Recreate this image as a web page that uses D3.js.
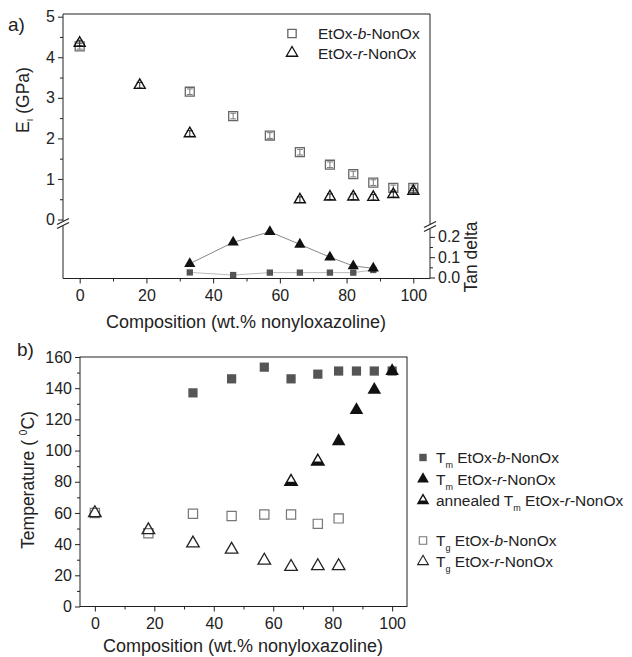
<!DOCTYPE html>
<html>
<head>
<meta charset="utf-8">
<script src="https://cdn.jsdelivr.net/npm/d3@7"></script>
<style>
  body { margin: 0; background: #fff; }
  svg { font-family: "Liberation Sans", Arial, sans-serif; }
  .axis path, .axis line { stroke: #222; }
  .axis text { font-size: 16px; fill: #222; }
</style>
</head>
<body>
<div id="chart"></div>
<script>
// ---- panel a data ----
const compB = [0, 33, 46, 57, 66, 75, 82, 88, 94, 100];
const modB = [4.27, 3.15, 2.55, 2.07, 1.66, 1.35, 1.12, 0.91, 0.78, 0.78];
const compR = [0, 18, 33, 66, 75, 82, 88, 94, 100];
const modR = [4.35, 3.31, 2.12, 0.49, 0.56, 0.56, 0.55, 0.62, 0.70];
const modErr = 0.07;

const tanComp = [33, 46, 57, 66, 75, 82, 88];
const tanR = [0.068, 0.173, 0.225, 0.163, 0.10, 0.057, 0.045];
const tanB = [0.025, 0.012, 0.024, 0.024, 0.024, 0.024, 0.037];

// ---- panel b data ----
const tmBComp = [33, 46, 57, 66, 75, 82, 88, 94, 100];
const tmB = [137, 146, 153.5, 146, 149, 151, 151, 151, 151];
const tmRComp = [82, 88, 94, 100];
const tmR = [106, 126, 139, 151];
const annComp = [66, 75];
const annR = [80, 93];
const tgBComp = [0, 18, 33, 46, 57, 66, 75, 82];
const tgB = [60, 47, 59.5, 58, 59, 59, 53, 56.5];
const tgRComp = [0, 18, 33, 46, 57, 66, 75, 82];
const tgR = [60, 49, 40.5, 36.5, 29.5, 25.5, 26, 26];

const xTicks = [0, 20, 40, 60, 80, 100];
const xMinor = [10, 30, 50, 70, 90];

const svg = d3.select("#chart").append("svg").attr("width", 632).attr("height", 657);

const tri = d3.symbol().type(d3.symbolTriangle);
const sq = d3.symbol().type(d3.symbolSquare);

function zip(a, b) { return a.map((v, i) => [v, b[i]]); }

function breakMark(g, x, y) {
  g.append("rect").attr("x", x - 6).attr("y", y - 2).attr("width", 12).attr("height", 5).attr("fill", "#fff");
  [-1.5, 2.5].forEach(o => {
    g.append("line").attr("x1", x - 6).attr("x2", x + 6).attr("y1", y + o + 3).attr("y2", y + o - 3)
      .attr("stroke", "#222").attr("stroke-width", 1.1);
  });
}

// ================= panel a =================
const ax = { l: 63, r: 430, t: 14, b: 278.5, brk: 223 };
const xa = d3.scaleLinear().domain([-5, 105]).range([ax.l, ax.r]);
const yaU = d3.scaleLinear().domain([0, 5]).range([219.5, 16.7]);
const yaL = d3.scaleLinear().domain([0, 0.25]).range([277.5, 226.7]);

const ga = svg.append("g");

// frame lines
ga.append("line").attr("x1", ax.l).attr("x2", ax.r).attr("y1", ax.t).attr("y2", ax.t).attr("stroke", "#222");
ga.append("line").attr("x1", ax.l).attr("x2", ax.l).attr("y1", ax.t).attr("y2", ax.b).attr("stroke", "#222");
ga.append("line").attr("x1", ax.r).attr("x2", ax.r).attr("y1", ax.t).attr("y2", ax.b).attr("stroke", "#222");

// bottom axis
ga.append("g").attr("class", "axis").attr("transform", `translate(0,${ax.b})`)
  .call(d3.axisBottom(xa).tickValues(xTicks).tickSize(5).tickSizeOuter(0).tickPadding(6))
  .call(g => g.select(".domain").attr("d", `M${ax.l},0H${ax.r}`));
ga.append("g").attr("class", "axis").attr("transform", `translate(0,${ax.b})`)
  .call(d3.axisBottom(xa).tickValues(xMinor).tickSize(3).tickFormat(""))
  .call(g => g.select(".domain").remove());

// left axis (upper part)
ga.append("g").attr("class", "axis").attr("transform", `translate(${ax.l},0)`)
  .call(d3.axisLeft(yaU).tickValues([0, 1, 2, 3, 4, 5]).tickSize(5).tickPadding(3).tickFormat(d3.format("d")))
  .call(g => g.select(".domain").remove());
ga.append("g").attr("class", "axis").attr("transform", `translate(${ax.l},0)`)
  .call(d3.axisLeft(yaU).tickValues([0.5, 1.5, 2.5, 3.5, 4.5]).tickSize(3).tickFormat(""))
  .call(g => g.select(".domain").remove());

// right axis (lower part, tan delta)
ga.append("g").attr("class", "axis").attr("transform", `translate(${ax.r},0)`)
  .call(d3.axisRight(yaL).tickValues([0, 0.1, 0.2]).tickSize(5).tickPadding(3).tickFormat(d3.format(".1f")))
  .call(g => g.select(".domain").remove());
ga.append("g").attr("class", "axis").attr("transform", `translate(${ax.r},0)`)
  .call(d3.axisRight(yaL).tickValues([0.05, 0.15]).tickSize(3).tickFormat(""))
  .call(g => g.select(".domain").remove());

breakMark(ga, ax.l, ax.brk);
breakMark(ga, ax.r, ax.brk + 3);

// error bars + markers, upper part
function errBars(g, data, color) {
  g.selectAll(null).data(data).join("g").each(function (d) {
    const s = d3.select(this);
    const x = xa(d[0]);
    s.append("line").attr("x1", x).attr("x2", x).attr("y1", yaU(d[1] - modErr)).attr("y2", yaU(d[1] + modErr))
      .attr("stroke", color).attr("stroke-width", 1);
    [-modErr, modErr].forEach(e => s.append("line").attr("x1", x - 3).attr("x2", x + 3)
      .attr("y1", yaU(d[1] + e)).attr("y2", yaU(d[1] + e)).attr("stroke", color).attr("stroke-width", 1));
  });
}

errBars(ga, zip(compB, modB), "#777");
ga.selectAll(null).data(zip(compB, modB)).join("path")
  .attr("d", sq.size(80)).attr("transform", d => `translate(${xa(d[0])},${yaU(d[1])})`)
  .attr("fill", "none").attr("stroke", "#666").attr("stroke-width", 1.3);

errBars(ga, zip(compR, modR), "#222");
ga.selectAll(null).data(zip(compR, modR)).join("path")
  .attr("d", tri.size(52)).attr("transform", d => `translate(${xa(d[0])},${yaU(d[1])})`)
  .attr("fill", "none").attr("stroke", "#111").attr("stroke-width", 1.4);

// tan delta lines + markers
const lineL = d3.line().x(d => xa(d[0])).y(d => yaL(d[1]));
ga.append("path").datum(zip(tanComp, tanB)).attr("d", lineL)
  .attr("fill", "none").attr("stroke", "#bbb").attr("stroke-width", 1);
ga.append("path").datum(zip(tanComp, tanR)).attr("d", lineL)
  .attr("fill", "none").attr("stroke", "#888").attr("stroke-width", 1);
ga.selectAll(null).data(zip(tanComp, tanB)).join("path")
  .attr("d", sq.size(40)).attr("transform", d => `translate(${xa(d[0])},${yaL(d[1])})`)
  .attr("fill", "#555");
ga.selectAll(null).data(zip(tanComp, tanR)).join("path")
  .attr("d", tri.size(55)).attr("transform", d => `translate(${xa(d[0])},${yaL(d[1])})`)
  .attr("fill", "#111");

// legend a
const legA = [
  { sym: sq, size: 70, stroke: "#666", label: ["EtOx-", "b", "-NonOx"] },
  { sym: tri, size: 55, stroke: "#111", label: ["EtOx-", "r", "-NonOx"] }
];
legA.forEach((d, i) => {
  const y = 33.5 + i * 19.5;
  ga.append("path").attr("d", d.sym.size(d.size)()).attr("transform", `translate(292,${y})`)
    .attr("fill", "none").attr("stroke", d.stroke).attr("stroke-width", 1.3);
  const t = ga.append("text").attr("x", 318).attr("y", y + 5.5).attr("font-size", 15.5).attr("fill", "#222");
  t.append("tspan").text(d.label[0]);
  t.append("tspan").attr("font-style", "italic").text(d.label[1]);
  t.append("tspan").text(d.label[2]);
});

// titles a
svg.append("text").attr("x", 8).attr("y", 31).attr("font-size", 19).attr("fill", "#222").text("a)");
const yTa = svg.append("text").attr("transform", "translate(29,100) rotate(-90)")
  .attr("text-anchor", "middle").attr("font-size", 17.5).attr("fill", "#222");
yTa.append("tspan").text("E");
yTa.append("tspan").attr("font-size", 9).attr("dy", 4).text("I");
yTa.append("tspan").attr("dy", -4).text(" (GPa)");
svg.append("text").attr("transform", "translate(477,257) rotate(-90)")
  .attr("text-anchor", "middle").attr("font-size", 17.5).attr("fill", "#222").text("Tan delta");
svg.append("text").attr("x", 246).attr("y", 328).attr("text-anchor", "middle")
  .attr("font-size", 18).attr("fill", "#222").text("Composition (wt.% nonyloxazoline)");

// ================= panel b =================
const bx = { l: 80, r: 407, t: 357, b: 606.5 };
const xb = d3.scaleLinear().domain([-5, 105]).range([bx.l, bx.r]);
const yb = d3.scaleLinear().domain([0, 160]).range([bx.b, bx.t]);
const gb = svg.append("g");

gb.append("rect").attr("x", bx.l).attr("y", bx.t).attr("width", bx.r - bx.l).attr("height", bx.b - bx.t)
  .attr("fill", "none").attr("stroke", "#222");

gb.append("g").attr("class", "axis").attr("transform", `translate(0,${bx.b})`)
  .call(d3.axisBottom(xb).tickValues(xTicks).tickSize(5).tickSizeOuter(0).tickPadding(6))
  .call(g => g.select(".domain").remove());
gb.append("g").attr("class", "axis").attr("transform", `translate(0,${bx.b})`)
  .call(d3.axisBottom(xb).tickValues(xMinor).tickSize(3).tickFormat(""))
  .call(g => g.select(".domain").remove());
gb.append("g").attr("class", "axis").attr("transform", `translate(${bx.l},0)`)
  .call(d3.axisLeft(yb).tickValues(d3.range(0, 161, 20)).tickSize(5).tickPadding(3))
  .call(g => g.select(".domain").remove());
gb.append("g").attr("class", "axis").attr("transform", `translate(${bx.l},0)`)
  .call(d3.axisLeft(yb).tickValues(d3.range(10, 160, 20)).tickSize(3).tickFormat(""))
  .call(g => g.select(".domain").remove());

const clip = svg.append("defs").append("clipPath").attr("id", "lowerHalf");
clip.append("rect").attr("x", -10).attr("y", 0).attr("width", 20).attr("height", 10);

function annealed(g, x, y, size) {
  const s = g.append("g").attr("transform", `translate(${x},${y})`);
  s.append("path").attr("d", tri.size(size)()).attr("fill", "#111").attr("clip-path", "url(#lowerHalf)");
  s.append("path").attr("d", tri.size(size)()).attr("fill", "none").attr("stroke", "#111").attr("stroke-width", 1.4);
}

gb.selectAll(null).data(zip(tgBComp, tgB)).join("path")
  .attr("d", sq.size(85)).attr("transform", d => `translate(${xb(d[0])},${yb(d[1])})`)
  .attr("fill", "none").attr("stroke", "#777").attr("stroke-width", 1.2);
gb.selectAll(null).data(zip(tgRComp, tgR)).join("path")
  .attr("d", tri.size(68)).attr("transform", d => `translate(${xb(d[0])},${yb(d[1])})`)
  .attr("fill", "none").attr("stroke", "#222").attr("stroke-width", 1.3);
gb.selectAll(null).data(zip(tmBComp, tmB)).join("path")
  .attr("d", sq.size(85)).attr("transform", d => `translate(${xb(d[0])},${yb(d[1])})`)
  .attr("fill", "#555");
gb.selectAll(null).data(zip(tmRComp, tmR)).join("path")
  .attr("d", tri.size(80)).attr("transform", d => `translate(${xb(d[0])},${yb(d[1])})`)
  .attr("fill", "#111");
zip(annComp, annR).forEach(d => annealed(gb, xb(d[0]), yb(d[1]), 68));

// legend b
const legB = [
  { kind: "sqF", sub: "m", label: ["EtOx-", "b", "-NonOx"], y: 457.5 },
  { kind: "triF", sub: "m", label: ["EtOx-", "r", "-NonOx"], y: 479 },
  { kind: "ann", sub: "m", pre: "annealed ", label: ["EtOx-", "r", "-NonOx"], y: 500.5 },
  { kind: "sqO", sub: "g", label: ["EtOx-", "b", "-NonOx"], y: 540.5 },
  { kind: "triO", sub: "g", label: ["EtOx-", "r", "-NonOx"], y: 561.5 }
];
legB.forEach(d => {
  const x = 423, y = d.y;
  if (d.kind === "sqF") gb.append("path").attr("d", sq.size(55)()).attr("transform", `translate(${x},${y})`).attr("fill", "#555");
  if (d.kind === "triF") gb.append("path").attr("d", tri.size(60)()).attr("transform", `translate(${x},${y})`).attr("fill", "#111");
  if (d.kind === "ann") annealed(gb, x, y, 45);
  if (d.kind === "sqO") gb.append("path").attr("d", sq.size(55)()).attr("transform", `translate(${x},${y})`)
    .attr("fill", "none").attr("stroke", "#777").attr("stroke-width", 1.1);
  if (d.kind === "triO") gb.append("path").attr("d", tri.size(50)()).attr("transform", `translate(${x},${y})`)
    .attr("fill", "none").attr("stroke", "#222").attr("stroke-width", 1.1);
  const t = gb.append("text").attr("x", 436).attr("y", y + 5.5).attr("font-size", 15.5).attr("fill", "#222");
  if (d.pre) t.append("tspan").text(d.pre);
  t.append("tspan").text("T");
  t.append("tspan").attr("font-size", 9).attr("dy", 5).text(d.sub);
  t.append("tspan").attr("dy", -5).text(" " + d.label[0]);
  t.append("tspan").attr("font-style", "italic").text(d.label[1]);
  t.append("tspan").text(d.label[2]);
});

// titles b
svg.append("text").attr("x", 17).attr("y", 356).attr("font-size", 19).attr("fill", "#222").text("b)");
const yTb = svg.append("text").attr("transform", "translate(34,480) rotate(-90)")
  .attr("text-anchor", "middle").attr("font-size", 17.5).attr("fill", "#222");
yTb.append("tspan").text("Temperature ( ");
yTb.append("tspan").attr("font-size", 10).attr("dy", -7).text("0");
yTb.append("tspan").attr("dy", 7).text("C)");
svg.append("text").attr("x", 243).attr("y", 652).attr("text-anchor", "middle")
  .attr("font-size", 18).attr("fill", "#222").text("Composition (wt.% nonyloxazoline)");
</script>
</body>
</html>
